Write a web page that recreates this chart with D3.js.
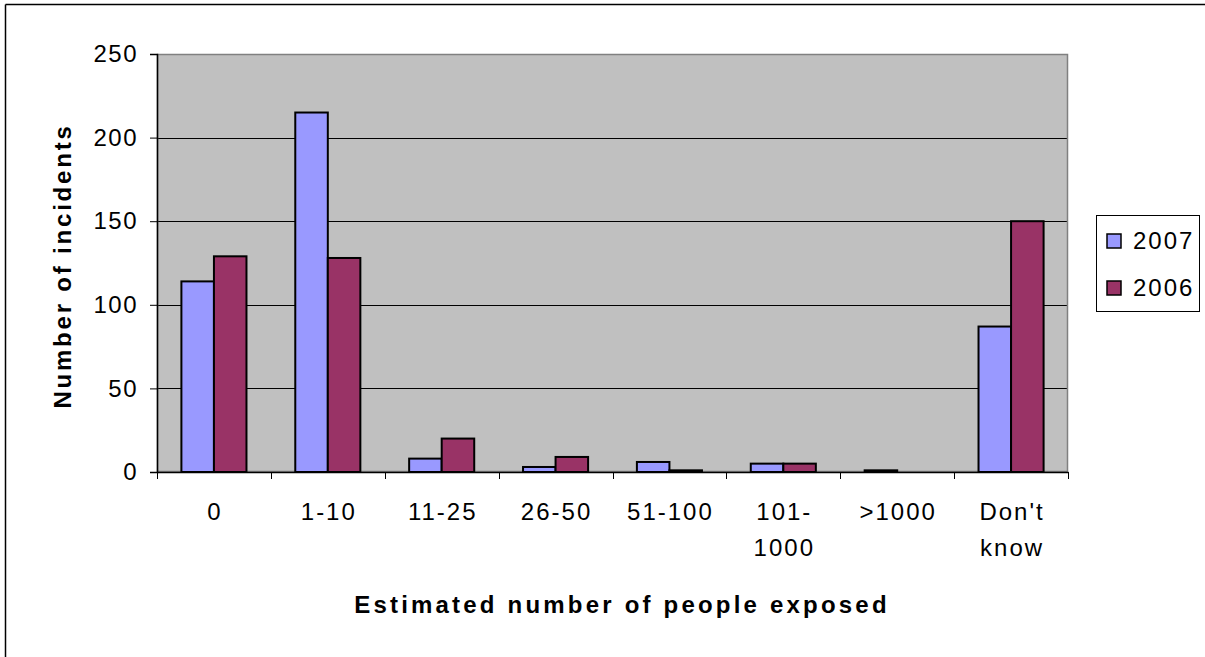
<!DOCTYPE html>
<html>
<head>
<meta charset="utf-8">
<script src="https://cdn.jsdelivr.net/npm/d3@7"></script>
<style>
  html, body { margin: 0; padding: 0; background: #fff; overflow: hidden; }
  svg { display: block; font-family: Arial, "Liberation Sans", sans-serif; }
</style>
</head>
<body>
<svg id="chart" width="1205" height="657"></svg>
<script>
const categories = ["0", "1-10", "11-25", "26-50", "51-100", "101-\n1000", ">1000", "Don't\nknow"];
const seriesNames = ["2007", "2006"];
const values2007 = [114, 215, 8, 3, 6, 5, 1, 87];
const values2006 = [129, 128, 20, 9, 1, 5, 0, 150];
const yTicks = [0, 50, 100, 150, 200, 250];
const colors = ["#9999FF", "#993366"];

const FS = 24;
const LS = 2;
const svg = d3.select("#chart");
const plot = { left: 157, top: 54, right: 1068, bottom: 472 };

// outer chart border (only top/left visible in crop)
svg.append("line").attr("x1", 5.5).attr("x2", 1205).attr("y1", 4.5).attr("y2", 4.5)
  .attr("stroke", "#000").attr("stroke-width", 1.5);
svg.append("line").attr("x1", 5.5).attr("x2", 5.5).attr("y1", 4.5).attr("y2", 657)
  .attr("stroke", "#000").attr("stroke-width", 1.5);

const x0 = d3.scaleBand().domain(categories).range([plot.left, plot.right]).paddingInner(0).paddingOuter(0);
const groupPad = 0.75 / 3.5;
const x1 = d3.scaleBand().domain(seriesNames)
  .range([x0.bandwidth() * groupPad, x0.bandwidth() * (1 - groupPad)]);
const y = d3.scaleLinear().domain([0, 250]).range([plot.bottom, plot.top]);

// plot background
svg.append("rect").attr("x", plot.left).attr("y", plot.top)
  .attr("width", plot.right - plot.left).attr("height", plot.bottom - plot.top)
  .attr("fill", "#C0C0C0");

// gridlines
svg.append("g").selectAll("line").data(yTicks.filter(d => d > 0)).join("line")
  .attr("x1", plot.left).attr("x2", plot.right)
  .attr("y1", d => Math.round(y(d)) + 0.5).attr("y2", d => Math.round(y(d)) + 0.5)
  .attr("stroke", "#000").attr("stroke-width", 1);

// plot border
svg.append("rect").attr("x", plot.left + 0.5).attr("y", plot.top + 0.5)
  .attr("width", plot.right - plot.left - 1).attr("height", plot.bottom - plot.top - 1)
  .attr("fill", "none").attr("stroke", "#808080").attr("stroke-width", 1.5);

// bars
const data = categories.map((c, i) => ({ cat: c, vals: [values2007[i], values2006[i]] }));
const groups = svg.append("g").selectAll("g").data(data).join("g")
  .attr("transform", d => `translate(${x0(d.cat)},0)`);
groups.selectAll("rect")
  .data(d => d.vals.map((v, j) => ({ v, s: seriesNames[j], j })).filter(e => e.v > 0))
  .join("rect")
  .attr("x", d => x1(d.s))
  .attr("y", d => y(d.v))
  .attr("width", x1.bandwidth())
  .attr("height", d => y(0) - y(d.v))
  .attr("fill", d => colors[d.j])
  .attr("stroke", "#000").attr("stroke-width", 2);

// y axis
const yAxis = d3.axisLeft(y).tickValues(yTicks).tickSize(7).tickPadding(12);
const gy = svg.append("g").attr("transform", `translate(${plot.left},0)`).call(yAxis);
gy.select(".domain").attr("stroke", "#000").attr("stroke-width", 1.5);
gy.selectAll(".tick line").attr("stroke", "#000");
gy.selectAll(".tick text").attr("font-size", FS).attr("fill", "#000").attr("letter-spacing", 1.5)
  .attr("font-family", "Arial, 'Liberation Sans', sans-serif");

// x axis
const xAxis = d3.axisBottom(x0).tickSize(0).tickFormat("");
const gx = svg.append("g").attr("transform", `translate(0,${plot.bottom})`).call(xAxis);
gx.select(".domain").attr("stroke", "#000").attr("stroke-width", 1.5);
// tick marks at category boundaries
const bounds = categories.map(c => x0(c)).concat([plot.right]);
gx.append("g").selectAll("line").data(bounds).join("line")
  .attr("x1", d => Math.round(d) + 0.5).attr("x2", d => Math.round(d) + 0.5)
  .attr("y1", 0).attr("y2", 7).attr("stroke", "#000");
// category labels
const lbl = gx.append("g").selectAll("text").data(categories).join("text")
  .attr("y", 48)
  .attr("text-anchor", "middle").attr("font-size", FS).attr("letter-spacing", LS)
  .attr("font-family", "Arial, 'Liberation Sans', sans-serif").attr("fill", "#000");
lbl.each(function(d) {
  const lines = d.split("\n");
  d3.select(this).selectAll("tspan").data(lines).join("tspan")
    .attr("x", x0(d) + x0.bandwidth() / 2 + LS / 2)
    .attr("dy", (l, i) => i === 0 ? 0 : 36)
    .text(l => l);
});

// axis titles
svg.append("text").attr("x", 622).attr("y", 613).attr("text-anchor", "middle")
  .attr("font-size", FS).attr("font-weight", "bold").attr("letter-spacing", 3.2)
  .text("Estimated number of people exposed");
svg.append("text").attr("transform", `translate(71,266) rotate(-90)`).attr("text-anchor", "middle")
  .attr("font-size", FS).attr("font-weight", "bold").attr("letter-spacing", 2.8)
  .text("Number of incidents");

// legend
const lg = svg.append("g");
lg.append("rect").attr("x", 1096.5).attr("y", 215.5).attr("width", 103).attr("height", 96)
  .attr("fill", "#fff").attr("stroke", "#000").attr("stroke-width", 1);
const items = lg.selectAll("g").data(seriesNames).join("g")
  .attr("transform", (d, i) => `translate(1107,${234 + i * 47})`);
items.append("rect").attr("width", 14).attr("height", 14)
  .attr("fill", (d, i) => colors[i]).attr("stroke", "#000").attr("stroke-width", 1.5);
items.append("text").attr("x", 26).attr("y", 15).attr("font-size", FS).attr("letter-spacing", LS)
  .text(d => d);
</script>
</body>
</html>
